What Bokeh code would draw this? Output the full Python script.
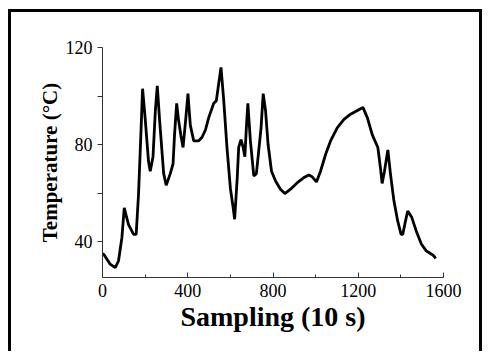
from bokeh.plotting import figure
from bokeh.models import Range1d, FixedTicker
from bokeh.embed import file_html
from bokeh.resources import INLINE

# Data
sample = [0, 8, 36, 60, 75, 91, 102, 122, 146, 158, 169, 180, 188, 200, 216, 224, 237, 248, 257,
          268, 287, 299, 318, 331, 338, 348, 357, 368, 378, 390, 401, 412, 428, 451, 467, 483,
          498, 522, 534, 545, 556, 569, 584, 600, 613, 620, 632, 639, 650, 660, 668, 675, 682,
          694, 710, 722, 733, 744, 754, 765, 777, 793, 812, 835, 856, 882, 914, 945, 968, 984,
          1004, 1023, 1047, 1070, 1102, 1133, 1164, 1196, 1222, 1243, 1266, 1292, 1304, 1312,
          1323, 1339, 1351, 1367, 1385, 1401, 1409, 1420, 1432, 1451, 1472, 1496, 1519, 1544,
          1556, 1563]
temperature = [35.1, 34.5, 30.7, 29.3, 32, 41.6, 53.9, 47, 43, 43, 59.5, 84, 103, 91, 73, 69, 75,
               94, 104.2, 90, 68, 63.2, 68, 72, 84, 97, 90, 83.6, 78.8, 90, 101, 88, 81.5, 81.5,
               83, 86, 91, 97, 98, 105, 111.8, 98, 78.8, 62, 54, 49.2, 66, 78.8, 82, 78.8, 75,
               87, 97, 81.5, 67, 68, 77.4, 87, 101, 94, 80, 69, 65, 61.6, 59.8, 61.6, 64.3, 66.4,
               67.4, 66.7, 64.6, 69, 76, 81.5, 87, 90.4, 92.5, 94, 95.3, 91, 84, 78.8, 70.5, 64,
               69, 77.8, 68, 57, 48.5, 43, 43, 47.8, 52.6, 50, 44.4, 39, 36.2, 34.8, 34, 33]

x_ticks = [0, 400, 800, 1200, 1600]
x_minor = [200, 600, 1000, 1400]
y_ticks = [40, 80, 120]
y_minor = [60, 100]

p = figure(width=474, height=342, output_backend="svg", toolbar_location=None,
           x_range=Range1d(0, 1600), y_range=Range1d(25.2, 120),
           min_border_left=91, min_border_right=42, min_border_top=35, min_border_bottom=77)
p.styles = {"margin-left": "8px", "margin-top": "9px",
            "border-left": "3px solid black", "border-top": "3px solid black",
            "border-right": "3px solid black"}
p.outline_line_color = None
p.grid.grid_line_color = None
p.background_fill_color = "white"
p.border_fill_color = "white"

p.line(sample, temperature, line_color="black", line_width=2.8)

xa = p.xaxis[0]
xa.ticker = FixedTicker(ticks=x_ticks, minor_ticks=x_minor)
xa.axis_label = "Sampling (10 s)"
xa.axis_label_text_font = "Liberation Serif"
xa.axis_label_text_font_style = "bold"
xa.axis_label_text_font_size = "28px"
xa.axis_label_text_color = "black"
xa.axis_label_standoff = 1
xa.major_label_text_font = "Liberation Serif"
xa.major_label_text_font_size = "18px"
xa.major_label_text_color = "black"
xa.major_label_standoff = 6
xa.major_tick_in = 5
xa.major_tick_out = 0
xa.minor_tick_in = 3
xa.minor_tick_out = 0
xa.axis_line_color = "#333333"
xa.major_tick_line_color = "#333333"
xa.minor_tick_line_color = "#333333"

ya = p.yaxis[0]
ya.ticker = FixedTicker(ticks=y_ticks, minor_ticks=y_minor)
ya.axis_label = "Temperature (°C)"
ya.axis_label_text_font = "Liberation Serif"
ya.axis_label_text_font_style = "bold"
ya.axis_label_text_font_size = "21px"
ya.axis_label_text_color = "black"
ya.axis_label_standoff = 1
ya.major_label_text_font = "Liberation Serif"
ya.major_label_text_font_size = "18px"
ya.major_label_text_color = "black"
ya.major_label_standoff = 5
ya.major_label_orientation = "horizontal"
ya.major_tick_in = 0
ya.major_tick_out = 5
ya.minor_tick_in = 0
ya.minor_tick_out = 5
ya.axis_line_color = "#333333"
ya.major_tick_line_color = "#333333"
ya.minor_tick_line_color = "#333333"

open("out.html", "w").write(file_html(p, INLINE))
